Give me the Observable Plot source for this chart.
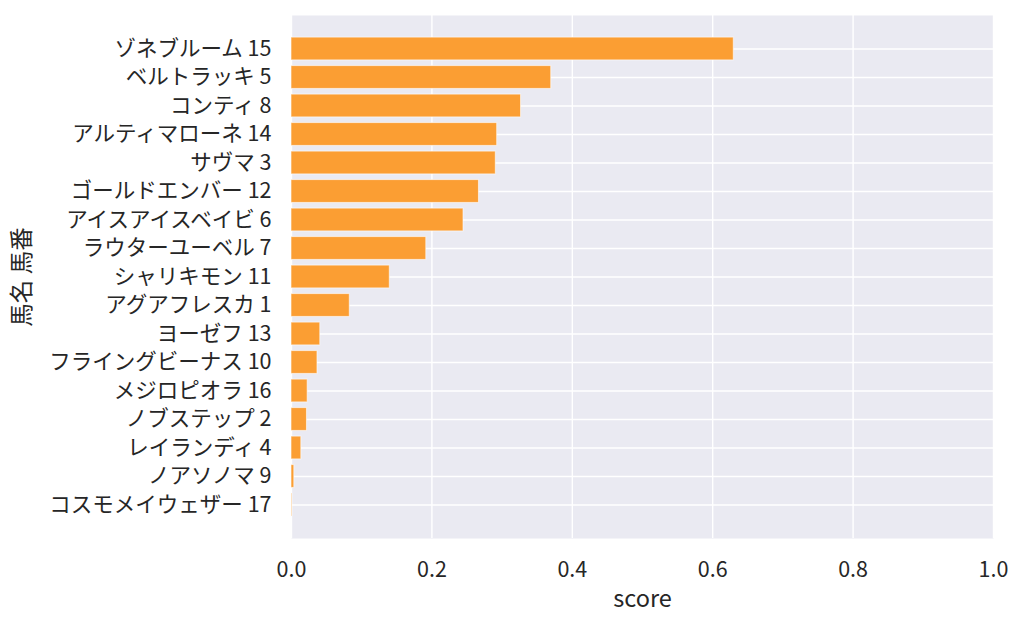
<!DOCTYPE html>
<html>
<head>
<meta charset="utf-8">
<script src="https://cdn.jsdelivr.net/npm/d3@7"></script>
<script src="https://cdn.jsdelivr.net/npm/@observablehq/plot@0.6"></script>
<style>
  html, body { margin: 0; padding: 0; background: #fff; }
  #chart { width: 1024px; height: 627px; }
</style>
</head>
<body>
<div id="chart"></div>
<script>
const horseNames = ["ゾネブルーム","ベルトラッキ","コンティ","アルティマローネ","サヴマ","ゴールドエンバー","アイスアイスベイビ","ラウターユーベル","シャリキモン","アグアフレスカ","ヨーゼフ","フライングビーナス","メジロピオラ","ノブステップ","レイランディ","ノアソノマ","コスモメイウェザー"];
const horseNumbers = [15,5,8,14,3,12,6,7,11,1,13,10,16,2,4,9,17];
const scores = [0.630,0.370,0.327,0.293,0.291,0.267,0.245,0.192,0.140,0.083,0.041,0.037,0.023,0.022,0.014,0.004,0.001];
const xTicks = [0,0.2,0.4,0.6,0.8,1.0];

const data = horseNames.map((n,i) => ({label: `${n} ${horseNumbers[i]}`, score: scores[i]}));
const labels = data.map(d => d.label);

const font = "'Noto Sans CJK JP', 'Noto Sans', sans-serif";
const chart = Plot.plot({
  width: 1024,
  height: 627,
  marginLeft: 291,
  marginRight: 31,
  marginTop: 15,
  marginBottom: 89,
  style: {fontFamily: font, color: "#262626", background: "#fff"},
  x: {domain: [0, 1]},
  y: {domain: labels, range: [34.25, 518.75], paddingInner: 0.2, paddingOuter: 0.1, round: false},
  marks: [
    Plot.frame({fill: "#eaeaf2", stroke: null}),
    Plot.gridX(xTicks, {stroke: "#fff", strokeOpacity: 1, strokeWidth: 1.4}),
    Plot.gridY(labels, {stroke: "#fff", strokeOpacity: 1, strokeWidth: 1.4}),
    Plot.barX(data, {x: "score", y: "label", fill: "#fb9e33", stroke: "#fff", strokeOpacity: 0.6, strokeWidth: 1}),
    Plot.axisX(xTicks, {tickSize: 0, tickPadding: 23, fontSize: 21.5, tickFormat: ".1f", label: null}),
    Plot.axisY(labels, {tickSize: 0, tickPadding: 20, fontSize: 21.5, label: null}),
    Plot.text(["score"], {frameAnchor: "bottom", dy: 68, fontSize: 23.5, text: d => d}),
    Plot.text(["馬名 馬番"], {frameAnchor: "left", textAnchor: "middle", dx: -269, rotate: -90, fontSize: 23.5, text: d => d})
  ]
});
document.getElementById("chart").appendChild(chart);
</script>
</body>
</html>
